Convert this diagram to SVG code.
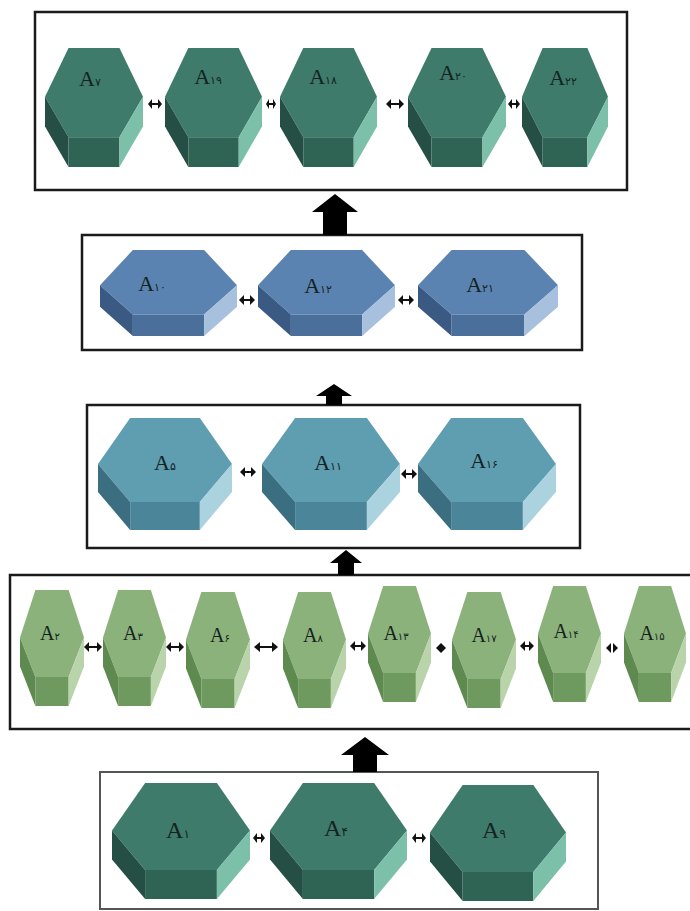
<svg xmlns="http://www.w3.org/2000/svg" xmlns:xlink="http://www.w3.org/1999/xlink" width="690" height="911" viewBox="0 0 690 911">
<style>
.box{fill:#fff;stroke:#1a1a1a;stroke-width:2.5}
.lbl{font-family:"Liberation Serif","DejaVu Serif",serif;text-anchor:middle;fill:#14231f}
.sub{font-family:"DejaVu Sans",sans-serif}
.big{fill:#000}
.dbl{fill:none;stroke:#111;stroke-width:2}
.hd{fill:#111}
</style>
<defs>
<symbol id="hexTeal" viewBox="0 0 100 100" preserveAspectRatio="none">
<polygon points="24,0 76,0 100,41 76,75 24,75 0,41" fill="#3f7b6b"/>
<polygon points="0,41 24,75 24,100 0,66" fill="#254f44"/>
<polygon points="24,75 76,75 76,100 24,100" fill="#2f6353"/>
<polygon points="76,75 100,41 100,66 76,100" fill="#7cc0aa"/>
</symbol>
<symbol id="hexBlue" viewBox="0 0 100 100" preserveAspectRatio="none">
<polygon points="24,0 76,0 100,41 76,75 24,75 0,41" fill="#5b83b1"/>
<polygon points="0,41 24,75 24,100 0,66" fill="#3a5a83"/>
<polygon points="24,75 76,75 76,100 24,100" fill="#4a6f9b"/>
<polygon points="76,75 100,41 100,66 76,100" fill="#a6c0de"/>
</symbol>
<symbol id="hexAqua" viewBox="0 0 100 100" preserveAspectRatio="none">
<polygon points="24,0 76,0 100,41 76,75 24,75 0,41" fill="#5f9db1"/>
<polygon points="0,41 24,75 24,100 0,66" fill="#3b6e80"/>
<polygon points="24,75 76,75 76,100 24,100" fill="#4b8599"/>
<polygon points="76,75 100,41 100,66 76,100" fill="#abd3df"/>
</symbol>
<symbol id="hexGreen" viewBox="0 0 100 100" preserveAspectRatio="none">
<polygon points="24,0 76,0 100,41 76,75 24,75 0,41" fill="#8cb27b"/>
<polygon points="0,41 24,75 24,100 0,66" fill="#5e8a50"/>
<polygon points="24,75 76,75 76,100 24,100" fill="#6f9a5f"/>
<polygon points="76,75 100,41 100,66 76,100" fill="#b9d3aa"/>
</symbol>
</defs>

<!-- level boxes -->
<g id="level5"><rect class="box" x="35" y="12" width="592" height="178"/></g>
<g id="level4"><rect class="box" x="82" y="235" width="500" height="115"/></g>
<g id="level3"><rect class="box" x="87" y="405" width="493" height="143"/></g>
<g id="level2"><rect class="box" x="10" y="575" width="690" height="154"/></g>
<g id="level1"><rect class="box" x="100" y="772" width="498" height="137" style="stroke:#555;stroke-width:2"/></g>

<!-- top row -->
<g id="n7"><use xlink:href="#hexTeal" x="45" y="48" width="98" height="119"/><text class="lbl" x="90" y="86" font-size="22">A<tspan class="sub" font-size="11">۷</tspan></text></g>
<g id="n19"><use xlink:href="#hexTeal" x="165" y="48" width="97" height="119"/><text class="lbl" x="208" y="84" font-size="22">A<tspan class="sub" font-size="11">۱۹</tspan></text></g>
<g id="n18"><use xlink:href="#hexTeal" x="280" y="48" width="97" height="119"/><text class="lbl" x="323" y="84" font-size="22">A<tspan class="sub" font-size="11">۱۸</tspan></text></g>
<g id="n20"><use xlink:href="#hexTeal" x="408" y="48" width="98" height="119"/><text class="lbl" x="453" y="80" font-size="22">A<tspan class="sub" font-size="11">۲۰</tspan></text></g>
<g id="n22"><use xlink:href="#hexTeal" x="522" y="48" width="86" height="119"/><text class="lbl" x="563" y="85" font-size="22">A<tspan class="sub" font-size="11">۲۲</tspan></text></g>

<!-- level 4 -->
<g id="n10"><use xlink:href="#hexBlue" x="100" y="250" width="137" height="86"/><text class="lbl" x="152" y="291" font-size="22" fill="#1c2c44">A<tspan class="sub" font-size="11">۱۰</tspan></text></g>
<g id="n12"><use xlink:href="#hexBlue" x="258" y="250" width="137" height="86"/><text class="lbl" x="318" y="293" font-size="22">A<tspan class="sub" font-size="11">۱۲</tspan></text></g>
<g id="n21"><use xlink:href="#hexBlue" x="418" y="250" width="140" height="86"/><text class="lbl" x="480" y="292" font-size="22">A<tspan class="sub" font-size="11">۲۱</tspan></text></g>

<!-- level 3 -->
<g id="n5"><use xlink:href="#hexAqua" x="98" y="418" width="134" height="112"/><text class="lbl" x="165" y="470" font-size="22">A<tspan class="sub" font-size="11">۵</tspan></text></g>
<g id="n11"><use xlink:href="#hexAqua" x="262" y="418" width="138" height="112"/><text class="lbl" x="328" y="470" font-size="22">A<tspan class="sub" font-size="11">۱۱</tspan></text></g>
<g id="n16"><use xlink:href="#hexAqua" x="418" y="418" width="138" height="112"/><text class="lbl" x="484" y="468" font-size="22">A<tspan class="sub" font-size="11">۱۶</tspan></text></g>

<!-- level 2 -->
<g id="n2"><use xlink:href="#hexGreen" x="20" y="590" width="64" height="116"/><text class="lbl" x="50" y="640" font-size="20">A<tspan class="sub" font-size="10">۲</tspan></text></g>
<g id="n3"><use xlink:href="#hexGreen" x="103" y="590" width="63" height="116"/><text class="lbl" x="133" y="640" font-size="20">A<tspan class="sub" font-size="10">۳</tspan></text></g>
<g id="n6"><use xlink:href="#hexGreen" x="186" y="592" width="64" height="116"/><text class="lbl" x="220" y="642" font-size="20">A<tspan class="sub" font-size="10">۶</tspan></text></g>
<g id="n8"><use xlink:href="#hexGreen" x="283" y="592" width="63" height="116"/><text class="lbl" x="313" y="642" font-size="20">A<tspan class="sub" font-size="10">۸</tspan></text></g>
<g id="n13"><use xlink:href="#hexGreen" x="368" y="586" width="63" height="116"/><text class="lbl" x="396" y="640" font-size="20">A<tspan class="sub" font-size="10">۱۳</tspan></text></g>
<g id="n17"><use xlink:href="#hexGreen" x="452" y="592" width="64" height="116"/><text class="lbl" x="484" y="642" font-size="20">A<tspan class="sub" font-size="10">۱۷</tspan></text></g>
<g id="n14"><use xlink:href="#hexGreen" x="538" y="586" width="63" height="116"/><text class="lbl" x="566" y="638" font-size="20">A<tspan class="sub" font-size="10">۱۴</tspan></text></g>
<g id="n15"><use xlink:href="#hexGreen" x="624" y="586" width="62" height="116"/><text class="lbl" x="652" y="640" font-size="20">A<tspan class="sub" font-size="10">۱۵</tspan></text></g>

<!-- level 1 -->
<g id="n1"><use xlink:href="#hexTeal" x="112" y="783" width="138" height="116"/><text class="lbl" x="178" y="838" font-size="24">A<tspan class="sub" font-size="12">۱</tspan></text></g>
<g id="n4"><use xlink:href="#hexTeal" x="270" y="783" width="137" height="116"/><text class="lbl" x="336" y="836" font-size="24">A<tspan class="sub" font-size="12">۴</tspan></text></g>
<g id="n9"><use xlink:href="#hexTeal" x="430" y="785" width="136" height="116"/><text class="lbl" x="494" y="838" font-size="24">A<tspan class="sub" font-size="12">۹</tspan></text></g>

<!-- connectors -->
<g id="connectors">
<!-- big upward arrows -->
<polygon class="big" points="353,772 353,755 341,755 365,737 389,755 377,755 377,772"/>
<polygon class="big" points="338,575 338,563 330,563 346,550 362,563 354,563 354,575"/>
<polygon class="big" points="326,405 326,396 316,396 334,384 352,396 342,396 342,405"/>
<polygon class="big" points="323,235 323,212 312,212 335,194 358,212 347,212 347,235"/>

<!-- small double arrows top row -->
<g transform="translate(155,104)"><line class="dbl" x1="-4" y1="0" x2="4" y2="0"/><polygon class="hd" points="-7,0 -3,-5 -3,5"/><polygon class="hd" points="7,0 3,-5 3,5"/></g>
<g transform="translate(271,104)"><line class="dbl" x1="-3" y1="0" x2="3" y2="0"/><polygon class="hd" points="-5,0 -2,-5 -2,5"/><polygon class="hd" points="5,0 2,-5 2,5"/></g>
<g transform="translate(395,104)"><line class="dbl" x1="-5" y1="0" x2="5" y2="0"/><polygon class="hd" points="-9,0 -4,-5 -4,5"/><polygon class="hd" points="9,0 4,-5 4,5"/></g>
<g transform="translate(514,104)"><line class="dbl" x1="-3" y1="0" x2="3" y2="0"/><polygon class="hd" points="-6,0 -2,-5 -2,5"/><polygon class="hd" points="6,0 2,-5 2,5"/></g>

<!-- level 4 -->
<g transform="translate(247,300)"><line class="dbl" x1="-4" y1="0" x2="4" y2="0"/><polygon class="hd" points="-8,0 -3,-5 -3,5"/><polygon class="hd" points="8,0 3,-5 3,5"/></g>
<g transform="translate(406,300)"><line class="dbl" x1="-4" y1="0" x2="4" y2="0"/><polygon class="hd" points="-8,0 -3,-5 -3,5"/><polygon class="hd" points="8,0 3,-5 3,5"/></g>

<!-- level 3 -->
<g transform="translate(248,472)"><line class="dbl" x1="-4" y1="0" x2="4" y2="0"/><polygon class="hd" points="-8,0 -3,-5 -3,5"/><polygon class="hd" points="8,0 3,-5 3,5"/></g>
<g transform="translate(409,474)"><line class="dbl" x1="-4" y1="0" x2="4" y2="0"/><polygon class="hd" points="-8,0 -3,-5 -3,5"/><polygon class="hd" points="8,0 3,-5 3,5"/></g>

<!-- level 2 -->
<g transform="translate(93,647)"><line class="dbl" x1="-5" y1="0" x2="5" y2="0"/><polygon class="hd" points="-9,0 -4,-5 -4,5"/><polygon class="hd" points="9,0 4,-5 4,5"/></g>
<g transform="translate(175,647)"><line class="dbl" x1="-5" y1="0" x2="5" y2="0"/><polygon class="hd" points="-9,0 -4,-5 -4,5"/><polygon class="hd" points="9,0 4,-5 4,5"/></g>
<g transform="translate(266,647)"><line class="dbl" x1="-8" y1="0" x2="8" y2="0"/><polygon class="hd" points="-12,0 -6,-5 -6,5"/><polygon class="hd" points="12,0 6,-5 6,5"/></g>
<g transform="translate(358,646)"><line class="dbl" x1="-4" y1="0" x2="4" y2="0"/><polygon class="hd" points="-8,0 -3,-5 -3,5"/><polygon class="hd" points="8,0 3,-5 3,5"/></g>
<g transform="translate(441,648)"><polygon class="hd" points="-5,0 0,-5 5,0 0,5"/></g>
<g transform="translate(527,646)"><line class="dbl" x1="-3" y1="0" x2="3" y2="0"/><polygon class="hd" points="-7,0 -2,-5 -2,5"/><polygon class="hd" points="7,0 2,-5 2,5"/></g>
<g transform="translate(612,648)"><polygon class="hd" points="-6,0 -1,-5 -1,5"/><polygon class="hd" points="6,0 1,-5 1,5"/></g>

<!-- level 1 -->
<g transform="translate(259,838)"><line class="dbl" x1="-3" y1="0" x2="3" y2="0"/><polygon class="hd" points="-6,0 -2,-5 -2,5"/><polygon class="hd" points="6,0 2,-5 2,5"/></g>
<g transform="translate(419,838)"><line class="dbl" x1="-4" y1="0" x2="4" y2="0"/><polygon class="hd" points="-7,0 -3,-5 -3,5"/><polygon class="hd" points="7,0 3,-5 3,5"/></g>
</g>
</svg>
